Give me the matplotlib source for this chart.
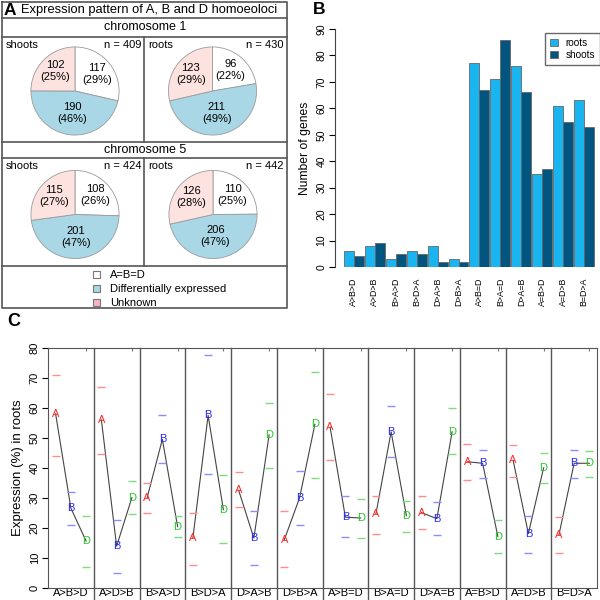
import matplotlib
matplotlib.use("Agg")
import matplotlib.pyplot as plt
import numpy as np

plt.rcParams['font.family'] = ['Liberation Sans', 'DejaVu Sans']

# ---- panel A: pie data ----
pie_titles = ["shoots", "roots", "shoots", "roots"]
pie_n = [409, 430, 424, 442]
# order: A=B=D, differentially expressed, unknown
pie_counts = [[117, 190, 102], [96, 211, 123], [108, 201, 115], [110, 206, 126]]
pie_pcts = [["29%", "46%", "25%"], ["22%", "49%", "29%"],
            ["26%", "47%", "27%"], ["25%", "47%", "28%"]]
pie_labels = ["A=B=D", "Differentially expressed", "Unknown"]

# ---- panel B: bar data ----
patterns = ["A>B>D", "A>D>B", "B>A>D", "B>D>A", "D>A>B", "D>B>A",
            "A>B=D", "B>A=D", "D>A=B", "A=B>D", "A=D>B", "B=D>A"]
roots = [6, 8, 3, 6, 8, 3, 77, 71, 76, 35, 61, 63]
shoots = [4, 9, 5, 5, 2, 2, 67, 86, 66, 37, 55, 53]

# ---- panel C: expression in roots (mean, upper, lower) ----
A_mean = [58, 56, 30, 16.5, 32.5, 16, 53.5, 24.5, 25, 42, 42.5, 17.5]
A_hi = [71, 67, 35, 25, 38.5, 25.5, 64.5, 30.5, 30.5, 48, 47.5, 23.5]
A_lo = [44, 44.5, 25, 7.5, 27, 7, 42.5, 18, 19.5, 36, 37, 11.5]
B_mean = [26.5, 13.8, 49.5, 57.5, 16.5, 30, 23.5, 52, 23, 41.5, 18, 41.5]
B_hi = [32, 22.5, 57.5, 77.5, 25.5, 39, 30.5, 60.5, 28.5, 46, 24, 46]
B_lo = [21, 5, 41.5, 38, 7.5, 21, 17, 43.5, 17.5, 36.5, 11.5, 36.5]
D_mean = [15.5, 30, 20.3, 26, 51, 54.5, 23.2, 24, 52, 17, 40, 41.5]
D_hi = [24, 35.5, 24, 37.5, 61.5, 72, 29.5, 29, 60, 22.5, 45, 45.5]
D_lo = [7, 24.5, 17, 15, 40, 36.5, 16.5, 18.5, 44.5, 11.5, 35, 37]

pie_colors = ["white", "#a9d7e6", "#fde3df"]
legend_colors = ["white", "#a9d7e6", "#f7b3c0"]
root_col = "#19b5f0"
shoot_col = "#02557f"


def rect(x0, y0, x1, y1):
    # pixel box (top-left origin) -> figure fraction
    return [x0 / 600, 1 - y1 / 600, (x1 - x0) / 600, (y1 - y0) / 600]


fig = plt.figure(figsize=(6, 6), dpi=100)

# overlay for panel A frame and labels
ov = fig.add_axes([0, 0, 1, 1])
ov.set_xlim(0, 600)
ov.set_ylim(600, 0)
ov.axis("off")
frame = dict(color="#555555", lw=1.2)
ov.plot([2, 287, 287, 2, 2], [2, 2, 308, 308, 2], **frame)
for yy in [18, 37, 142, 158, 266]:
    ov.plot([2, 287], [yy, yy], **frame)
ov.plot([144, 144], [37, 142], **frame)
ov.plot([144, 144], [158, 266], **frame)
ov.text(4, 10.5, "A", fontsize=12.5, fontweight="bold", va="center")
ov.text(21, 10.5, "Expression pattern of A, B and D homoeoloci", fontsize=9.3, va="center")
ov.text(145, 27.5, "chromosome 1", fontsize=9, ha="center", va="center")
ov.text(145, 150, "chromosome 5", fontsize=9, ha="center", va="center")
ov.text(313, 9, "B", fontsize=12.5, fontweight="bold", va="center")
ov.text(7, 322, "C", fontsize=13, fontweight="bold", va="center")

# pies
centers = [(75, 91), (212.5, 91), (75, 214.5), (213, 214.5)]
boxes = [(2, 37, 144), (144, 37, 287), (2, 158, 144), (144, 158, 287)]
dist = [0.63, 0.5, 0.63]
R = 44.5
for i in range(4):
    cx, cy = centers[i]
    pa = fig.add_axes(rect(cx - R, cy - R, cx + R, cy + R))
    pa.pie(pie_counts[i], colors=pie_colors, startangle=90, counterclock=False,
           wedgeprops=dict(edgecolor="#9a9a9a", linewidth=0.6))
    pa.set_xlim(-1.01, 1.01)
    pa.set_ylim(-1.01, 1.01)
    pa.axis("off")
    tot = sum(pie_counts[i])
    start = 90
    for j, c in enumerate(pie_counts[i]):
        mid = np.deg2rad(start - c / tot * 180)
        start -= c / tot * 360
        pa.text(dist[j] * np.cos(mid), dist[j] * np.sin(mid), f"{c}\n({pie_pcts[i][j]})",
                ha="center", va="center", fontsize=8, linespacing=1.25)
    x0, y0, x1 = boxes[i]
    ov.text(x0 + 4, y0 + 8, pie_titles[i], fontsize=8, va="center")
    ov.text(x1 - 3, y0 + 8, f"n = {pie_n[i]}", fontsize=8, va="center", ha="right")

# legend of panel A
for k, lab in enumerate(pie_labels):
    yy = 274.5 + 14 * k
    ov.add_patch(plt.Rectangle((93, yy - 3.5), 7, 7, facecolor=legend_colors[k],
                               edgecolor="#777777", lw=0.8))
    ov.text(110, yy, lab, fontsize=8, va="center")

# ---- panel B ----
axb = fig.add_axes(rect(335, 29, 600, 267))
g = 2.1
xr = [g * i + 0.6 for i in range(12)]
xs = [g * i + 1.6 for i in range(12)]
axb.bar(xr, roots, width=1, color=root_col, edgecolor="#666666", linewidth=0.6, label="roots")
axb.bar(xs, shoots, width=1, color=shoot_col, edgecolor="#666666", linewidth=0.6, label="shoots")
axb.set_xlim(-0.8, 25.8)
axb.set_ylim(0, 90)
for s in ["top", "right", "bottom"]:
    axb.spines[s].set_visible(False)
axb.spines["left"].set_bounds(0, 90)
axb.spines["left"].set_color("#444444")
axb.set_yticks(range(0, 91, 10))
axb.tick_params(axis="y", direction="out", length=4, labelsize=7.5, labelrotation=90, pad=2)
for t in axb.get_yticklabels():
    t.set_va("center")
axb.set_xticks([g * i + 1.1 for i in range(12)])
axb.set_xticklabels(patterns, rotation=90, fontsize=6.4)
axb.tick_params(axis="x", length=0, pad=8)
axb.set_ylabel("Number of genes", fontsize=8.7, labelpad=4)
axb.legend(loc="upper right", bbox_to_anchor=(600 / 600, 1 - 33 / 600),
           bbox_transform=fig.transFigure, fontsize=7.2, frameon=True, fancybox=False,
           edgecolor="#444444", handlelength=0.8, handleheight=0.8, handletextpad=0.8,
           borderpad=0.5, labelspacing=0.2, borderaxespad=0)

# ---- panel C ----
axc = fig.add_axes(rect(48, 348, 597, 587.5))
red, blue, green = "#ff2a2a", "#2a2aff", "#22cc22"
lred, lblue, lgreen = "#ff8c8c", "#8c8cff", "#7ddc7d"
for k in range(12):
    xa, xb, xd = 3 * k + 1, 3 * k + 2, 3 * k + 3
    axc.plot([xa, xb, xd], [A_mean[k], B_mean[k], D_mean[k]], color="#444444", lw=0.8, zorder=2)
    axc.plot([xa, xa], [A_hi[k], A_lo[k]], ls="none", marker="_", ms=6, mew=1, color=lred)
    axc.plot([xb, xb], [B_hi[k], B_lo[k]], ls="none", marker="_", ms=6, mew=1, color=lblue)
    axc.plot([xd, xd], [D_hi[k], D_lo[k]], ls="none", marker="_", ms=6, mew=1, color=lgreen)
    axc.text(xa, A_mean[k], "A", color=red, ha="center", va="center", fontsize=8, zorder=3)
    axc.text(xb, B_mean[k], "B", color=blue, ha="center", va="center", fontsize=8, zorder=3)
    axc.text(xd, D_mean[k], "D", color=green, ha="center", va="center", fontsize=8, zorder=3)
    if k > 0:
        axc.axvline(3 * k + 0.5, ymin=-0.055, ymax=1, color="#555555", lw=1.0, clip_on=False)
axc.set_xlim(0.5, 36.5)
axc.set_ylim(0, 80)
for s in axc.spines.values():
    s.set_color("#555555")
axc.set_yticks(range(0, 81, 10))
axc.tick_params(axis="y", direction="out", length=4, labelsize=8, labelrotation=90, pad=2)
for t in axc.get_yticklabels():
    t.set_va("center")
axc.set_xticks([3 * k + 2 for k in range(12)])
axc.set_xticklabels(patterns, fontsize=8)
axc.tick_params(axis="x", length=0, pad=0.5)
axc.set_ylabel("Expression (%) in roots", fontsize=9.5, labelpad=4)
top = axc.secondary_xaxis("top")
top.set_xticks([3 * k + 3 for k in range(12)])
top.set_xticklabels([])
top.tick_params(direction="in", length=2.5, color="#777777")
top.spines["top"].set_visible(False)

fig.savefig("out.png", dpi=100)
